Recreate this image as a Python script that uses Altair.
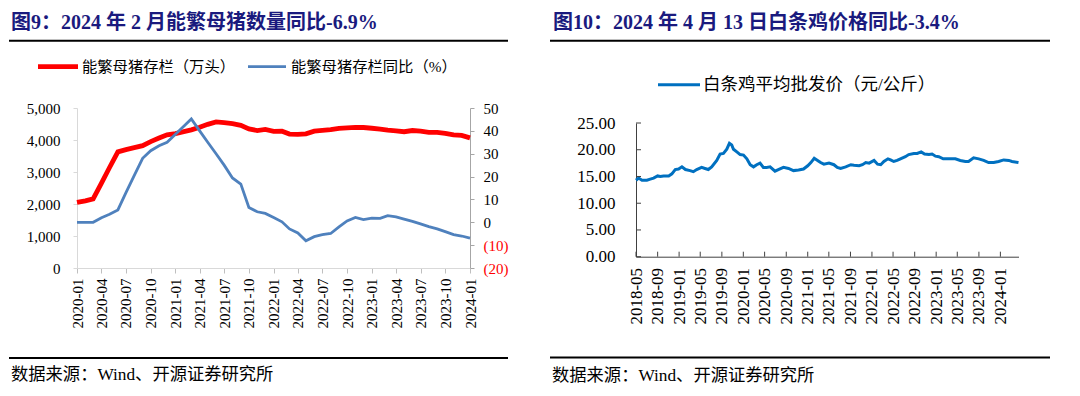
import altair as alt
import pandas as pd

FONT = "Liberation Serif, Noto Sans CJK SC"
NAVY = "#1a1a7e"

# ---------------- Left panel data ----------------
left_title = "图9：2024 年 2 月能繁母猪数量同比-6.9%"
left_legend = ["能繁母猪存栏（万头）", "能繁母猪存栏同比（%）"]
source_text = "数据来源：Wind、开源证券研究所"

months = [d.strftime("%Y-%m-%d") for d in pd.date_range("2020-01-01", "2024-01-01", freq="MS")]
sow = [2050, 2100, 2160, 2650, 3140, 3629, 3700, 3760, 3822, 3950, 4060, 4161,
       4200, 4260, 4318, 4400, 4490, 4564, 4540, 4510, 4459, 4348, 4296, 4329,
       4268, 4274, 4185, 4177, 4192, 4277, 4298, 4324, 4362, 4379, 4394, 4390,
       4367, 4343, 4305, 4284, 4258, 4296, 4274, 4241, 4240, 4210, 4158, 4142,
       4067]
yoy = [0, 0, 0, 2, 3.5, 5.4, 13, 20.5, 28, 31.3, 33.5, 35,
       38.5, 42, 45.2, 40, 35, 30, 25, 19.4, 16.7, 6.5, 4.6, 3.9,
       2.1, 0.2, -2.9, -4.7, -8.1, -6.3, -5.4, -4.9, -2, 0.6, 2.1, 1.2,
       1.8, 1.7, 2.9, 2.4, 1.4, 0.4, -0.7, -1.9, -2.9, -4.1, -5.4, -6,
       -6.9]
left_ticks = [(y, m) for y in range(2020, 2025) for m in (1, 4, 7, 10) if (y, m) <= (2024, 1)]
left_y_ticks = [0, 1000, 2000, 3000, 4000, 5000]
right_y_ticks = [-20, -10, 0, 10, 20, 30, 40, 50]

# ---------------- Right panel data ----------------
right_title = "图10：2024 年 4 月 13 日白条鸡价格同比-3.4%"
right_legend = "白条鸡平均批发价（元/公斤）"
chicken_dates = [
    "2018-05-01", "2018-05-16", "2018-06-04", "2018-07-02", "2018-07-21", "2018-08-09",
    "2018-09-01", "2018-09-16", "2018-10-05", "2018-11-03", "2018-11-21", "2018-12-10",
    "2018-12-29", "2019-01-17", "2019-02-06", "2019-03-04", "2019-03-23", "2019-04-11",
    "2019-05-09", "2019-05-28", "2019-06-16", "2019-07-05", "2019-08-03", "2019-08-22",
    "2019-09-10", "2019-09-29", "2019-10-14", "2019-10-27", "2019-11-06", "2019-11-25",
    "2019-12-14", "2020-01-02", "2020-01-21", "2020-02-09", "2020-02-28", "2020-03-17",
    "2020-04-05", "2020-04-24", "2020-05-13", "2020-06-01", "2020-06-29", "2020-07-18",
    "2020-08-16", "2020-09-14", "2020-10-12", "2020-11-10", "2020-12-08", "2021-01-01",
    "2021-01-19", "2021-02-07", "2021-02-26", "2021-03-15", "2021-04-03", "2021-05-02",
    "2021-05-30", "2021-06-18", "2021-07-07", "2021-08-05", "2021-09-03", "2021-09-21",
    "2021-10-20", "2021-11-08", "2021-11-27", "2021-12-16", "2022-01-13", "2022-02-02",
    "2022-02-20", "2022-03-10", "2022-04-02", "2022-04-17", "2022-05-05", "2022-05-24",
    "2022-06-12", "2022-07-10", "2022-07-29", "2022-08-27", "2022-09-15", "2022-10-08",
    "2022-10-27", "2022-11-21", "2022-12-09", "2022-12-28", "2023-01-16", "2023-02-10",
    "2023-03-03", "2023-04-01", "2023-04-20", "2023-05-18", "2023-06-16", "2023-07-04",
    "2023-08-02", "2023-08-31", "2023-09-28", "2023-10-26", "2023-11-24", "2023-12-22",
    "2024-01-20", "2024-02-18", "2024-03-07", "2024-04-13"]
chicken_price = [
    14.3, 14.7, 14.3, 14.3, 14.5, 14.7,
    15.1, 15.0, 15.1, 15.1, 15.5, 16.3,
    16.4, 16.8, 16.3, 16.1, 15.9, 16.3,
    16.7, 16.5, 16.3, 16.8, 18.0, 19.2,
    19.3, 20.1, 21.2, 20.9, 20.1, 19.6,
    19.1, 19.0, 18.3, 17.2, 16.8, 17.2,
    17.5, 16.7, 16.7, 16.8, 16.0, 16.3,
    16.7, 16.5, 16.1, 16.2, 16.4, 17.0,
    17.6, 18.4, 18.0, 17.6, 17.3, 17.5,
    17.2, 16.7, 16.5, 16.8, 17.2, 17.1,
    17.0, 17.2, 17.6, 17.5, 18.0, 17.3,
    17.2, 17.8, 18.3, 18.1, 17.8, 18.0,
    18.3, 18.7, 19.1, 19.3, 19.3, 19.6,
    19.2, 19.1, 19.2, 18.8, 18.7, 18.3,
    18.3, 18.3, 18.3, 18.0, 17.8, 17.8,
    18.5, 18.3, 18.0, 17.6, 17.6, 17.8,
    18.1, 18.0, 17.8, 17.6]
chicken_ticks = ["2018-05", "2018-09", "2019-01", "2019-05", "2019-09", "2020-01",
                 "2020-05", "2020-09", "2021-01", "2021-05", "2021-09", "2022-01",
                 "2022-05", "2022-09", "2023-01", "2023-05", "2023-09", "2024-01"]
chicken_y_ticks = [0, 5, 10, 15, 20, 25]


def dt(y, m, d=1):
    return alt.DateTime(year=y, month=m, date=d, utc=True)


def text_mark(txt, x, y, size, color="black", weight="normal"):
    return alt.Chart(pd.DataFrame({"t": [txt]})).mark_text(
        align="left", baseline="middle", fontSize=size, font=FONT,
        color=color, fontWeight=weight
    ).encode(x=alt.value(x), y=alt.value(y), text="t:N")


def hrule(xa, xb, y, color, width):
    return alt.Chart(pd.DataFrame({"a": [0]})).mark_rule(
        color=color, strokeWidth=width
    ).encode(x=alt.value(xa), x2=alt.value(xb), y=alt.value(y))


# ---------------- Left panel ----------------
W1, H1 = 393, 160
df1 = pd.DataFrame({"date": months, "sow": sow, "yoy": yoy})

x1 = alt.X("date:T",
           scale=alt.Scale(type="utc", domain=[dt(2020, 1), dt(2024, 1)]),
           axis=alt.Axis(values=[dt(y, m) for y, m in left_ticks], format="%Y-%m",
                         labelAngle=270, labelFont=FONT, labelFontSize=15,
                         labelColor="black", domainColor="#d9d9d9", tickColor="#bfbfbf",
                         tickSize=5, labelPadding=5, labelFlush=False,
                         labelOverlap=False, grid=False, title=None))

red = alt.Chart(df1).mark_line(color="#ff0000", strokeWidth=4.8).encode(
    x=x1,
    y=alt.Y("sow:Q", scale=alt.Scale(domain=[0, 5000]),
            axis=alt.Axis(values=left_y_ticks, format=",.0f", labelFont=FONT,
                          labelFontSize=15, labelColor="black",
                          domainColor="#d9d9d9", tickColor="#d9d9d9", tickSize=4,
                          labelPadding=13, grid=False, title=None)))

blue = alt.Chart(df1).mark_line(color="#4f81bd", strokeWidth=2.8).encode(
    x=x1,
    y=alt.Y("yoy:Q", scale=alt.Scale(domain=[-20, 50]),
            axis=alt.Axis(orient="right", values=right_y_ticks,
                          labelExpr="datum.value < 0 ? '(' + (-datum.value) + ')' : datum.label",
                          labelColor={"condition": {"test": "datum.value < 0", "value": "#ff0000"},
                                      "value": "black"},
                          labelFont=FONT, labelFontSize=15,
                          domainColor="#a6a6a6", tickColor="#a6a6a6", tickSize=4,
                          labelPadding=9, grid=False, title=None)))

left_decor = [
    text_mark(left_title, -66, -84.8, 20, NAVY, "bold"),
    hrule(-68, 431, -67.3, "black", 2),
    hrule(-39, 1, -41.3, "#ff0000", 4.8),
    text_mark(left_legend[0], 5, -41.3, 15.3),
    hrule(171, 209, -41.3, "#4f81bd", 2.8),
    text_mark(left_legend[1], 214, -41.3, 15.3),
    hrule(-68, 431, 250, "black", 2),
    text_mark(source_text, -66, 267.2, 17.3),
]

left = alt.layer(red, blue, *left_decor).resolve_scale(y="independent").properties(
    width=W1, height=H1)

# ---------------- Right panel ----------------
# view origin shares the left panel's top (page y 107.3); plot top sits 15 px lower
TOP2 = 15
W2, H2 = 382.5, 148.7
df2 = pd.DataFrame({"date": chicken_dates, "price": chicken_price})
AX2 = "#404040"

x2 = alt.X("date:T",
           scale=alt.Scale(type="utc", domain=[dt(2018, 5), dt(2024, 4, 13)]),
           axis=alt.Axis(values=[dt(int(s[:4]), int(s[5:])) for s in chicken_ticks],
                         format="%Y-%m", labelAngle=270, labelFont=FONT,
                         labelFontSize=17, labelColor="black", domainColor=AX2,
                         ticks=False, labelPadding=10.7, labelFlush=False,
                         labelOverlap=False, grid=False, title=None))
y2 = alt.Y("price:Q", scale=alt.Scale(domain=[0, 25], range=[H2, TOP2]),
           axis=alt.Axis(values=chicken_y_ticks, format=".2f", labelFont=FONT,
                         labelFontSize=17, labelColor="black", domainColor=AX2,
                         ticks=False, labelPadding=21, grid=False, title=None))

line2 = alt.Chart(df2).mark_line(color="#0070c0", strokeWidth=3).encode(x=x2, y=y2)

xt = alt.Chart(pd.DataFrame({"date": [s + "-01" for s in chicken_ticks]})).mark_rule(
    color=AX2, strokeWidth=1).encode(x=x2, y=alt.value(H2 - 5), y2=alt.value(H2))
yt = alt.Chart(pd.DataFrame({"price": chicken_y_ticks})).mark_rule(
    color=AX2, strokeWidth=1).encode(y=y2, x=alt.value(0), x2=alt.value(5))

right_decor = [
    text_mark(right_title, -83, -85.3, 20, NAVY, "bold"),
    hrule(-86, 414, -67.3, "black", 2),
    hrule(22, 64, -23.3, "#0070c0", 3),
    text_mark(right_legend, 67, -23.3, 17.5),
    hrule(-86, 414, 249.4, "black", 2),
    text_mark(source_text, -84, 267.7, 17.3),
]

right = alt.layer(line2, xt, yt, *right_decor).properties(width=W2, height=H2)

chart = alt.hconcat(left, right, spacing=40).properties(
    padding={"left": 0, "top": 4, "right": 0, "bottom": 0},
    background="white"
).configure_view(strokeWidth=0)

chart.save("out.html", embed_options={"renderer": "svg", "actions": False})
